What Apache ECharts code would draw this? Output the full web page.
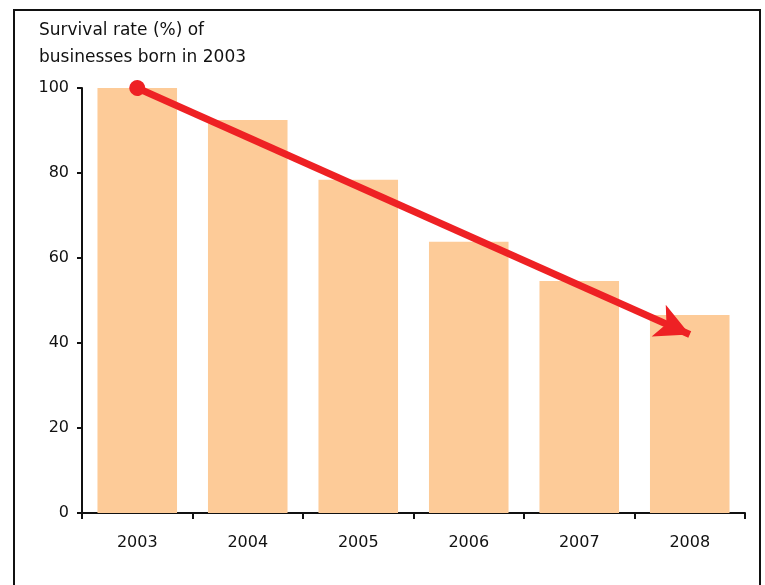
<!DOCTYPE html>
<html lang="en">
<head>
    <meta charset="UTF-8">
    <title>Survival rate of businesses born in 2003</title>
    <script src="https://cdn.jsdelivr.net/npm/echarts@6/dist/echarts.min.js"></script>
</head>
<body style="margin:0;">
<div id="main" style="width:765px;height:585px;"></div>
<script>
    var years = ['2003', '2004', '2005', '2006', '2007', '2008'];
    var survival = [100, 92.5, 78.4, 63.8, 54.6, 46.6];
    var yTicks = [0, 20, 40, 60, 80, 100];
    // trend arrow: from first year at 100 down to last year at ~42
    var arrowFrom = ['2003', 100];
    var arrowTo = ['2008', 42];

    var myChart = echarts.init(document.getElementById('main'));
    var font = '"DejaVu Sans", sans-serif';
    var option = {
        animation: false,
        textStyle: {fontFamily: font},
        graphic: [
            {
                type: 'rect',
                shape: {x: 14, y: 10, width: 746, height: 600},
                style: {fill: 'none', stroke: '#111', lineWidth: 2}
            },
            {
                type: 'text',
                left: 39,
                top: 17,
                style: {
                    text: 'Survival rate (%) of\nbusinesses born in 2003',
                    font: '17px ' + font,
                    fill: '#111',
                    lineHeight: 27
                }
            }
        ],
        grid: {left: 82, right: 20, top: 88, bottom: 72},
        xAxis: {
            type: 'category',
            data: years,
            axisLine: {lineStyle: {color: '#111', width: 2}},
            axisTick: {show: true, length: 6, lineStyle: {color: '#111', width: 2}},
            axisLabel: {color: '#111', fontSize: 16, margin: 22}
        },
        yAxis: {
            type: 'value',
            min: yTicks[0],
            max: yTicks[yTicks.length - 1],
            interval: 20,
            axisLine: {show: true, lineStyle: {color: '#111', width: 2}},
            axisTick: {show: true, length: 5, lineStyle: {color: '#111', width: 2}},
            axisLabel: {color: '#111', fontSize: 16, margin: 13},
            splitLine: {show: false}
        },
        series: [{
            type: 'bar',
            data: survival,
            barWidth: '72%',
            itemStyle: {color: '#FDCB98'},
            markLine: {
                silent: true,
                label: {show: false},
                lineStyle: {color: '#EE2124', width: 7, type: 'solid'},
                data: [[
                    {coord: arrowFrom, symbol: 'circle', symbolSize: 16},
                    {coord: arrowTo, symbol: 'arrow', symbolSize: [26, 34]}
                ]]
            }
        }]
    };
    myChart.setOption(option);
</script>
</body>
</html>
